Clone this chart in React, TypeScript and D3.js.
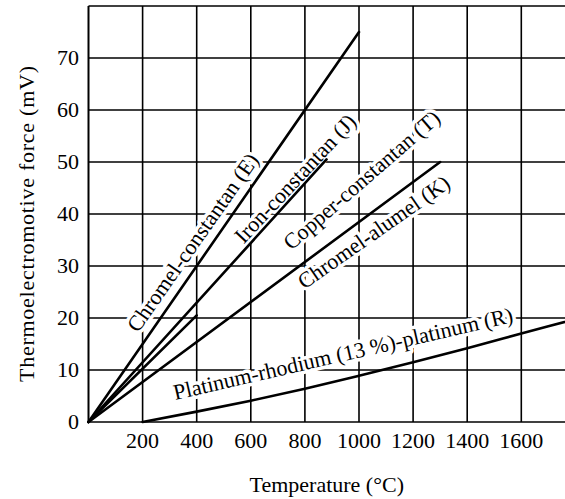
import React from "react";
import * as d3 from "d3";

const xTicks = [200, 400, 600, 800, 1000, 1200, 1400, 1600];
const yTicks = [0, 10, 20, 30, 40, 50, 60, 70];

const eTemp = [0, 1000];
const eEmf = [0, 75];
const jTemp = [0, 880];
const jEmf = [0, 50.5];
const tTemp = [0, 400];
const tEmf = [0, 20.5];
const kTemp = [0, 1300];
const kEmf = [0, 50];
const rTemp = [200, 400, 600, 800, 1000, 1200, 1400, 1600, 1800];
const rEmf = [0, 2.0, 4.1, 6.4, 8.9, 11.5, 14.2, 17.0, 19.8];

const labelText = [
  "Chromel-constantan (E)",
  "Iron-constantan (J)",
  "Copper-constantan (T)",
  "Chromel-alumel (K)",
  "Platinum-rhodium (13 %)-platinum (R)",
];
const labelTemp = [386, 765, 1010, 1055, 941];
const labelEmf = [34.5, 46.8, 46.5, 36.5, 13.1];
const labelAngle = [-55, -47, -41, -35, -13];

const W = 565;
const H = 499;
const FONT = "'Liberation Serif', 'Times New Roman', Times, serif";

export default function App() {
  const x = d3.scaleLinear().domain([0, 1800]).range([88.5, 88.5 + 1800 * 0.2705]);
  const y = d3.scaleLinear().domain([0, 80]).range([422, 6]);
  const line = d3
    .line<[number, number]>()
    .x((d) => x(d[0]))
    .y((d) => y(d[1]));
  const curve = d3
    .line<[number, number]>()
    .x((d) => x(d[0]))
    .y((d) => y(d[1]))
    .curve(d3.curveMonotoneX);
  const zip = (a: number[], b: number[]) => a.map((v, i) => [v, b[i]] as [number, number]);
  const series = [
    zip(eTemp, eEmf),
    zip(jTemp, jEmf),
    zip(tTemp, tEmf),
    zip(kTemp, kEmf),
  ];
  const x0 = x(0);
  const xEnd = W;
  return (
    <svg
      width={W}
      height={H}
      style={{ position: "absolute", left: 0, top: 0, background: "#fff" }}
      fontFamily={FONT}
    >
      <rect x={0} y={0} width={W} height={H} fill="#fff" />
      {/* grid */}
      <g stroke="#000" strokeWidth={1.6}>
        {yTicks.concat([80]).map((v) => (
          <line key={"h" + v} x1={x0} x2={xEnd} y1={y(v)} y2={y(v)} />
        ))}
        {xTicks.map((v) => (
          <line key={"v" + v} x1={x(v)} x2={x(v)} y1={y(0)} y2={y(80)} />
        ))}
        <line x1={x0} x2={x0} y1={y(0)} y2={y(80)} strokeWidth={2} />
      </g>
      {/* curve labels with white halo */}
      <g fontSize={22} fill="#000">
        {labelText.map((t, i) => (
          <text
            key={t}
            transform={`translate(${x(labelTemp[i])},${y(labelEmf[i])}) rotate(${labelAngle[i]})`}
            textAnchor="middle"
            dy="0.33em"
            stroke="#fff"
            strokeWidth={7}
            paintOrder="stroke"
            strokeLinejoin="round"
          >
            {t}
          </text>
        ))}
      </g>
      {/* data lines */}
      <g fill="none" stroke="#000" strokeWidth={2.6} strokeLinecap="round">
        {series.map((s, i) => (
          <path key={i} d={line(s) || ""} />
        ))}
        <path d={curve(zip(rTemp, rEmf)) || ""} />
      </g>
      {/* tick labels */}
      <g fontSize={22} fill="#000">
        {yTicks.map((v) => (
          <text key={"yl" + v} x={79} y={y(v)} dy="0.33em" textAnchor="end">
            {v}
          </text>
        ))}
        {xTicks.map((v) => (
          <text key={"xl" + v} x={x(v)} y={448} textAnchor="middle">
            {v}
          </text>
        ))}
      </g>
      <text x={(x0 + W) / 2} y={492} fontSize={22} textAnchor="middle">
        Temperature (°C)
      </text>
      <text
        transform={`translate(33.5,${224}) rotate(-90)`}
        fontSize={22}
        textAnchor="middle"
        textLength={316}
        lengthAdjust="spacing"
      >
        Thermoelectromotive force (mV)
      </text>
    </svg>
  );
}
